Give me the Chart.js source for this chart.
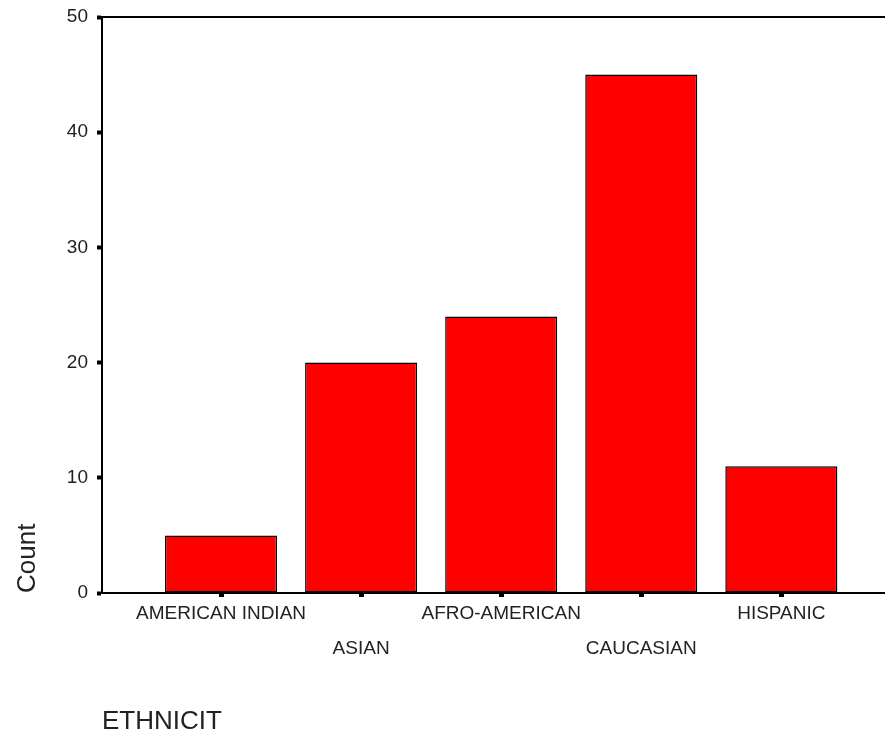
<!DOCTYPE html>
<html>
<head>
<meta charset="utf-8">
<script src="https://cdn.jsdelivr.net/npm/chart.js@4/dist/chart.umd.min.js"></script>
<style>
  body { margin: 0; background: #fff; }
  #wrap { width: 885px; height: 739px; position: relative; }
</style>
</head>
<body>
<div id="wrap"><canvas id="barChart"></canvas></div>
<script>
// SPSS style bar chart, counts per ethnic group
var categories = ['AMERICAN INDIAN', 'ASIAN', 'AFRO-AMERICAN', 'CAUCASIAN', 'HISPANIC'];
var counts = [5, 20, 24, 45, 11];
var yTicks = [0, 10, 20, 30, 40, 50];

var font = "'Liberation Sans', Arial, sans-serif";

var ctx = document.getElementById('barChart').getContext('2d');
var myChart = new Chart(ctx, {
    type: 'bar',
    data: {
        datasets: [{
            label: 'Count',
            data: counts.map(function(v, i) { return { x: i, y: v }; }),
            backgroundColor: '#ff0000',
            borderColor: '#000000',
            borderWidth: 1.5,
            borderSkipped: false,
            barPercentage: 0.8,
            categoryPercentage: 1
        }]
    },
    options: {
        responsive: true,
        maintainAspectRatio: false,
        animation: false,
        layout: { padding: 0 },
        plugins: {
            legend: { display: false },
            tooltip: { enabled: false }
        },
        scales: {
            x: {
                type: 'linear',
                position: 'bottom',
                offset: false,
                min: -0.85,
                max: 4.74,
                afterBuildTicks: function(scale) {
                    scale.ticks = categories.map(function(c, i) { return { value: i }; });
                },
                afterFit: function(scale) { scale.height = 146; },
                grid: {
                    offset: false,
                    drawOnChartArea: false,
                    color: '#000',
                    tickLength: 4,
                    tickWidth: 5
                },
                border: { display: true, color: '#000', width: 2 },
                ticks: {
                    autoSkip: false,
                    maxRotation: 0,
                    padding: 0,
                    color: '#222',
                    font: { family: font, size: 19, lineHeight: '34.5px' },
                    callback: function(value) {
                        var name = categories[value];
                        if (name === undefined) return '';
                        // every second label sits on a lower row
                        return value % 2 === 1 ? ['', name] : name;
                    }
                },
                title: {
                    display: true,
                    text: 'ETHNICIT',
                    align: 'start',
                    color: '#222',
                    font: { family: font, size: 26 },
                    padding: { top: 0, bottom: 2 }
                }
            },
            xTop: {
                type: 'linear',
                position: 'top',
                offset: false,
                min: -0.85,
                max: 4.74,
                afterFit: function(scale) { scale.height = 17; },
                grid: { display: false, drawTicks: false, offset: false },
                ticks: { display: false },
                border: { display: true, color: '#000', width: 2 }
            },
            y: {
                min: 0,
                max: 50,
                afterBuildTicks: function(scale) {
                    scale.ticks = yTicks.map(function(v) { return { value: v }; });
                },
                afterFit: function(scale) {
                    scale.width = 102;
                    scale.paddingTop = 0;
                    scale.paddingBottom = 0;
                },
                grid: {
                    drawOnChartArea: false,
                    color: '#000',
                    tickLength: 5,
                    tickWidth: 4
                },
                border: { display: true, color: '#000', width: 2 },
                ticks: {
                    padding: 9,
                    color: '#222',
                    font: { family: font, size: 19 }
                },
                title: {
                    display: true,
                    text: 'Count',
                    align: 'start',
                    color: '#222',
                    font: { family: font, size: 26 },
                    padding: { top: 12, bottom: 0 }
                }
            }
        }
    }
});
</script>
</body>
</html>
